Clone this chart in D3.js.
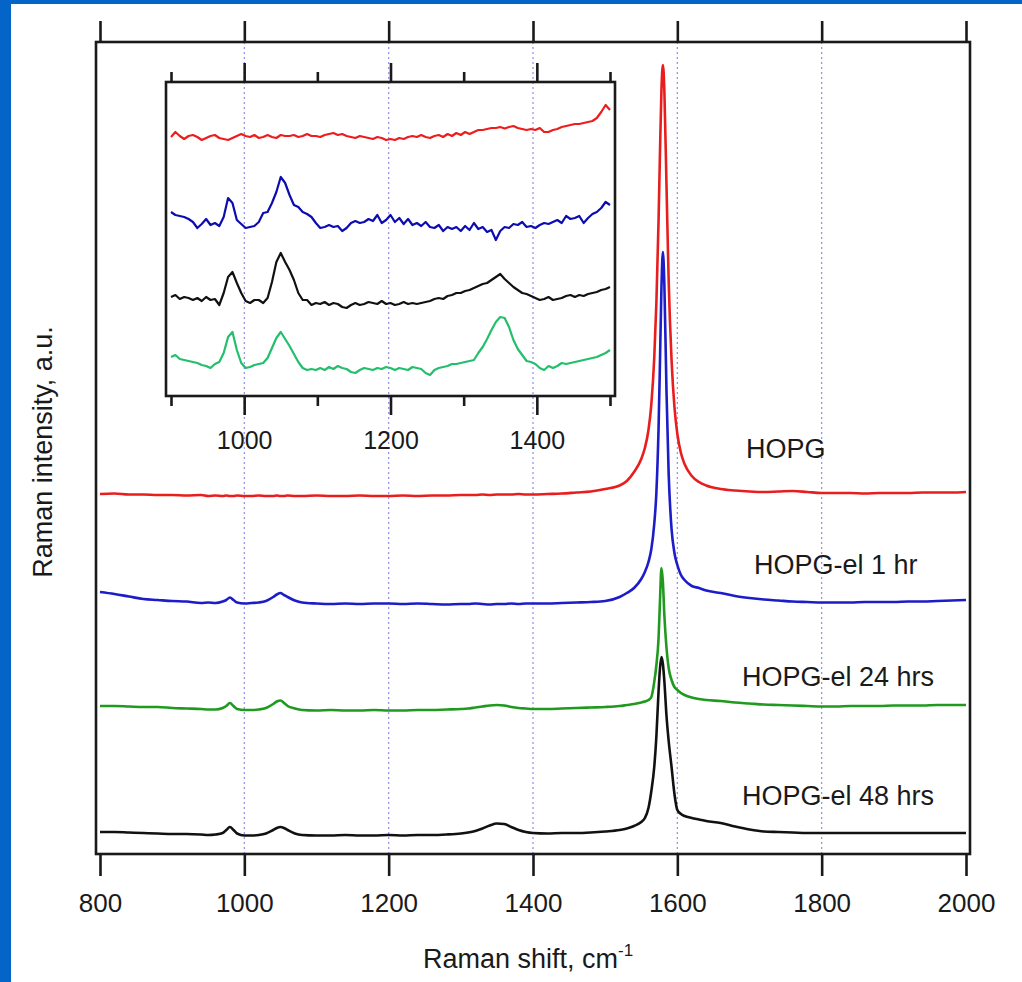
<!DOCTYPE html>
<html><head><meta charset="utf-8">
<script src="https://cdn.jsdelivr.net/npm/d3@7"></script>
<style>
body{margin:0;background:#fff}
svg{display:block}
text{font-family:"Liberation Sans",Arial,Helvetica,sans-serif;fill:#1a1a1a}
</style>
</head><body>
<svg id="chart" width="1022" height="982"></svg>
<script>
// ---------- DATA (main panel) ----------
const shift = [800,820,840,860,880,900,920,940,950,960,970,975,980,985,990,
1000,1010,1020,1030,1040,1045,1050,1055,1060,1070,1080,
1100,1120,1140,1160,1180,1200,1220,1240,1260,1280,1300,
1310,1320,1330,1340,1350,1360,1370,1380,1390,
1400,1420,1440,1460,1480,1500,
1520,1530,1540,1550,1555,1560,1564,1568,1571,1574,1576,1578,1580,1582,1585,1588,1592,1596,1600,
1605,1610,1620,1630,1640,
1660,1680,1700,1720,1740,1760,1780,1800,1820,1840,1860,1880,1900,1920,1940,1960,1980,2000];

const hopg = [2,2.5,1.5,1.5,1,1,0.5,1,0,0.5,0,0.5,0,0,0.5,
0,0,0.5,0,0,0.5,0,0,0.5,0,0,
0.5,0,0,0.5,0,0,0.5,0,0.5,0.5,1,
1,1,1.5,1,1.5,1.5,1.5,2,1.5,
1.5,2,2.5,3.5,4.5,7,
10.5,15,24,37,48,66,92,138,194,276,345,406,431,406,310,215,136,89,62,
43,32,20,14,10.5,
7,5.5,4.5,4,4.5,5,4,3,3,3,2.5,3,3,3,3.5,3.5,3.5,4];

const el1 = [12,10,7.5,5,4,3,2.5,1,1.5,1,2.5,4,6.5,4,1.5,
0.5,1,1.5,3,7,9.5,11,9,7,3.5,1.5,
0.5,0,0.5,0,0.5,0.5,0,0.5,0,-0.5,0,
0,0.5,0,-0.5,0,0,0.5,0,0.5,
0.5,0.5,1,1.5,2,3,
7,11,16,25,32,42,55,80,112,176,244,317,352,320,212,130,75,51,39,
29,24,18,16,13.5,
11,8,6,4.5,3.5,2.5,2,1.5,1.5,1.5,2,2,2,2.5,2.5,3,3.5,4];

const el24 = [4,4,3.5,3,3,2,1.5,1,0.5,0.5,2,4,7,4,1,
0,0,0.5,2,6,8.5,9.5,7,4,1.5,0,
-0.5,0,-0.5,-0.5,0,-0.5,-0.5,0,0,0.5,1,
1.5,2.5,3.5,4.5,5,4.5,3,2,1.5,
1,1,1.5,2,2.5,3,
4,5,6,7.5,8.5,10,13,28,45,72,110,142,128,95,62,42,30,23,20,
17,15,12.5,11,10,
9,7.5,6.5,5.5,5,4.5,4,3.5,3.5,4,4,4,4.5,4.5,4.5,5,5,5];

const el48 = [4,4,3.5,3,2.5,2,2,1.5,1,1.5,3,6,9,6,2.5,
0.5,0.5,1,2.5,6,8,9,8,6,2.5,1,
0.5,0.5,1,0.5,0.5,1,0.5,1,1,1.5,2.5,
3.5,5,7.5,10.5,12.5,12,9,6,4,
3,2.5,3,3,3.5,4.5,
6,7.5,10,14,18,28,45,69,100,145,168,179,172,155,120,95,69,42,26,
22,20,18,16.5,15,
13,9.5,6.5,4.5,4,3.5,3,3,3,3,3,3,3,3,3,3,3,3];

const seriesNames = ["HOPG","HOPG-el 1 hr","HOPG-el 24 hrs","HOPG-el 48 hrs"];
const seriesValues = [hopg, el1, el24, el48];
const seriesOffsets = [358, 250, 144, 18];
const xTicks = [800,1000,1200,1400,1600,1800,2000];
const gridTicks = [1000,1200,1400,1600,1800];

// ---------- DATA (inset) ----------
const insetShift = [900,906,912,918,924,930,936,942,948,954,960,966,972,978,984,990,996,
1002,1008,1014,1020,1026,1032,1038,1044,1050,1056,1062,1068,1074,1080,1086,1092,1098,
1104,1110,1116,1122,1128,1134,1140,1146,1152,1158,1164,1170,1176,1182,1188,1194,
1200,1206,1212,1218,1224,1230,1236,1242,1248,1254,1260,1266,1272,1278,1284,1290,1296,
1302,1308,1314,1320,1326,1332,1338,1344,1350,1356,1362,1368,1374,1380,1386,1392,1398,
1404,1410,1416,1422,1428,1434,1440,1446,1452,1458,1464,1470,1476,1482,1488,1494,1500];

const insetHopg = [0,5,1,-2,1,2,0,-3,-1,1,2,-1,-2,-3,-1,1,3,1,0,2,-1,0,2,0,-1,2,1,1,2,0,
1,3,1,1,0,2,3,4,2,3,1,0,-1,1,0,-1,-2,0,-1,-3,-2,-3,-1,-2,0,1,0,2,0,-1,
1,2,0,3,1,4,2,5,3,5,7,7,8,9,9,10,8.5,10,11,9,8,7,8,7,9,5,5,7,8,10,
11,12,13,13,14,15,16,19,25,32,27];

const insetEl1 = [16,13,12,11,9,6,0,4,9,3,5,2,11,30,25,8,4,0,1,2,6,15,16,25,36,51,45,33,23,21,
16,14,11,5,0,1,3,1,2,-3,0,5,7,5,6,9,7,13,5,8,13,6,10,4,9,3,5,2,6,1,
0,3,-3,1,-1,1,-3,2,-2,5,-1,1,-4,-2,-12,-3,1,0,4,3,6,1,2,0,3,5,4,6,8,5,
12,9,10,12,5,10,14,16,20,26,23];

const insetEl48 = [8,10,6,8,7,5,7,4,8,5,6,0,12,28,33,22,12,4,2,5,5,2,7,23,43,52,43,35,25,12,
5,5,0,2,1,3,0,2,1,-2,-3,0,2,0,1,3,2,1,4,1,2,0,1,3,1,2,1,2,3,4,
6,7,6,9,10,12,12,14,15,17,19,21,22,25,28,31,26,22,18,15,12,11,9,7,5,6,8,5,6,7,
9,10,8,10,9,11,12,13,15,16,18];

const insetEl24 = [13,15,11,10,9,8,7,5,4,2,6,8,17,33,38,20,7,2,3,5,6,7,12,22,32,38,31,24,16,8,
2,0,1,0,2,0,3,1,4,2,1,-2,-3,0,2,1,0,2,1,3,2,0,2,1,0,3,2,1,-3,-5,
0,2,3,4,6,6,7,8,9,10,17,23,31,40,48,53,52,43,30,21,15,9,8,6,2,0,4,2,4,7,
6,7,8,9,10,11,12,13,15,17,20];

const insetValues = [insetHopg, insetEl1, insetEl48, insetEl24];
const insetOffsets = [258, 167, 90, 25];
const insetMajor = [1000,1200,1400];
const insetMinor = [900,1100,1300,1500];

// ---------- STYLE / LAYOUT ----------
const mainColors = ["#e81e1e","#1c1cc8","#1f9a1f","#111111"];
const insetColors = ["#ee1c1c","#0c0cb0","#111111","#22bf6c"];
const ink = "#1a1a1a";
const frame = {l:96, t:42, r:970, b:854};
const ins = {l:166, t:82, r:615, b:396};

const svg = d3.select("#chart");
svg.append("rect").attr("width",1022).attr("height",982).attr("fill","#fff");
svg.append("rect").attr("x",0).attr("y",0).attr("width",11).attr("height",982).attr("fill","#0564c8");
svg.append("rect").attr("x",0).attr("y",0).attr("width",1022).attr("height",4).attr("fill","#0564c8");

const x = d3.scaleLinear().domain([800,2000]).range([100,966]);
const y = d3.scaleLinear().domain([0,812]).range([854,42]);

// grid
svg.append("g").selectAll("line").data(gridTicks).join("line")
  .attr("x1",d=>x(d)).attr("x2",d=>x(d)).attr("y1",frame.t).attr("y2",frame.b)
  .attr("stroke","#8e8ee6").attr("stroke-width",1.2).attr("stroke-dasharray","2,3");

// axes
function styleAxis(g){
  g.select(".domain").remove();
  g.selectAll(".tick line").attr("stroke",ink).attr("stroke-width",2.6);
}
const axB = svg.append("g").attr("transform",`translate(0,${frame.b})`)
  .call(d3.axisBottom(x).tickValues(xTicks).tickSize(22).tickPadding(18).tickFormat(d3.format("d")));
styleAxis(axB);
axB.selectAll("text").attr("font-size",26).attr("fill",ink).style("font-family","'Liberation Sans',Arial,sans-serif");
const axT = svg.append("g").attr("transform",`translate(0,${frame.t})`)
  .call(d3.axisTop(x).tickValues(xTicks).tickSize(21).tickFormat(""));
styleAxis(axT);

svg.append("rect").attr("x",frame.l).attr("y",frame.t).attr("width",frame.r-frame.l).attr("height",frame.b-frame.t)
  .attr("fill","none").attr("stroke",ink).attr("stroke-width",2.6);

// main curves
const mainG = svg.append("g");
seriesValues.forEach((vals,k)=>{
  const line = d3.line().x((d,i)=>x(shift[i])).y(d=>y(d+seriesOffsets[k])).curve(d3.curveMonotoneX);
  mainG.append("path").attr("d",line(vals)).attr("fill","none")
    .attr("stroke",mainColors[k]).attr("stroke-width",2.6).attr("stroke-linejoin","round");
});

// series labels
const labelPos = [[746,458],[754,574],[742,686],[742,805]];
seriesNames.forEach((n,k)=>{
  svg.append("text").attr("x",labelPos[k][0]).attr("y",labelPos[k][1]).attr("font-size",27).text(n);
});

// inset
const xi = d3.scaleLinear().domain([900,1500]).range([171,610]);
const yi = d3.scaleLinear().domain([0,313]).range([395,82]);

const ib = svg.append("g").attr("transform",`translate(0,${ins.b})`)
  .call(d3.axisBottom(xi).tickValues(insetMajor).tickSize(19).tickPadding(16).tickFormat(d3.format("d")));
styleAxis(ib);
ib.selectAll("text").attr("font-size",25).attr("fill",ink).style("font-family","'Liberation Sans',Arial,sans-serif");
const ibm = svg.append("g").attr("transform",`translate(0,${ins.b})`)
  .call(d3.axisBottom(xi).tickValues(insetMinor).tickSize(10).tickFormat(""));
styleAxis(ibm);
const it = svg.append("g").attr("transform",`translate(0,${ins.t})`)
  .call(d3.axisTop(xi).tickValues(insetMajor).tickSize(19).tickFormat(""));
styleAxis(it);
const itm = svg.append("g").attr("transform",`translate(0,${ins.t})`)
  .call(d3.axisTop(xi).tickValues(insetMinor).tickSize(10).tickFormat(""));
styleAxis(itm);

insetValues.forEach((vals,k)=>{
  const line = d3.line().x((d,i)=>xi(insetShift[i])).y(d=>yi(d+insetOffsets[k]));
  svg.append("path").attr("d",line(vals)).attr("fill","none")
    .attr("stroke",insetColors[k]).attr("stroke-width",2.2).attr("stroke-linejoin","round");
});
svg.append("rect").attr("x",ins.l).attr("y",ins.t).attr("width",ins.r-ins.l).attr("height",ins.b-ins.t)
  .attr("fill","none").attr("stroke",ink).attr("stroke-width",2.6);

// titles
const xt = svg.append("text").attr("x",423).attr("y",968).attr("font-size",27);
xt.append("tspan").text("Raman shift, cm");
xt.append("tspan").attr("font-size",17).attr("dy",-12).text("-1");

svg.append("text").attr("transform","translate(52,452) rotate(-90)")
  .attr("text-anchor","middle").attr("font-size",27).text("Raman intensity, a.u.");
</script>
</body></html>
